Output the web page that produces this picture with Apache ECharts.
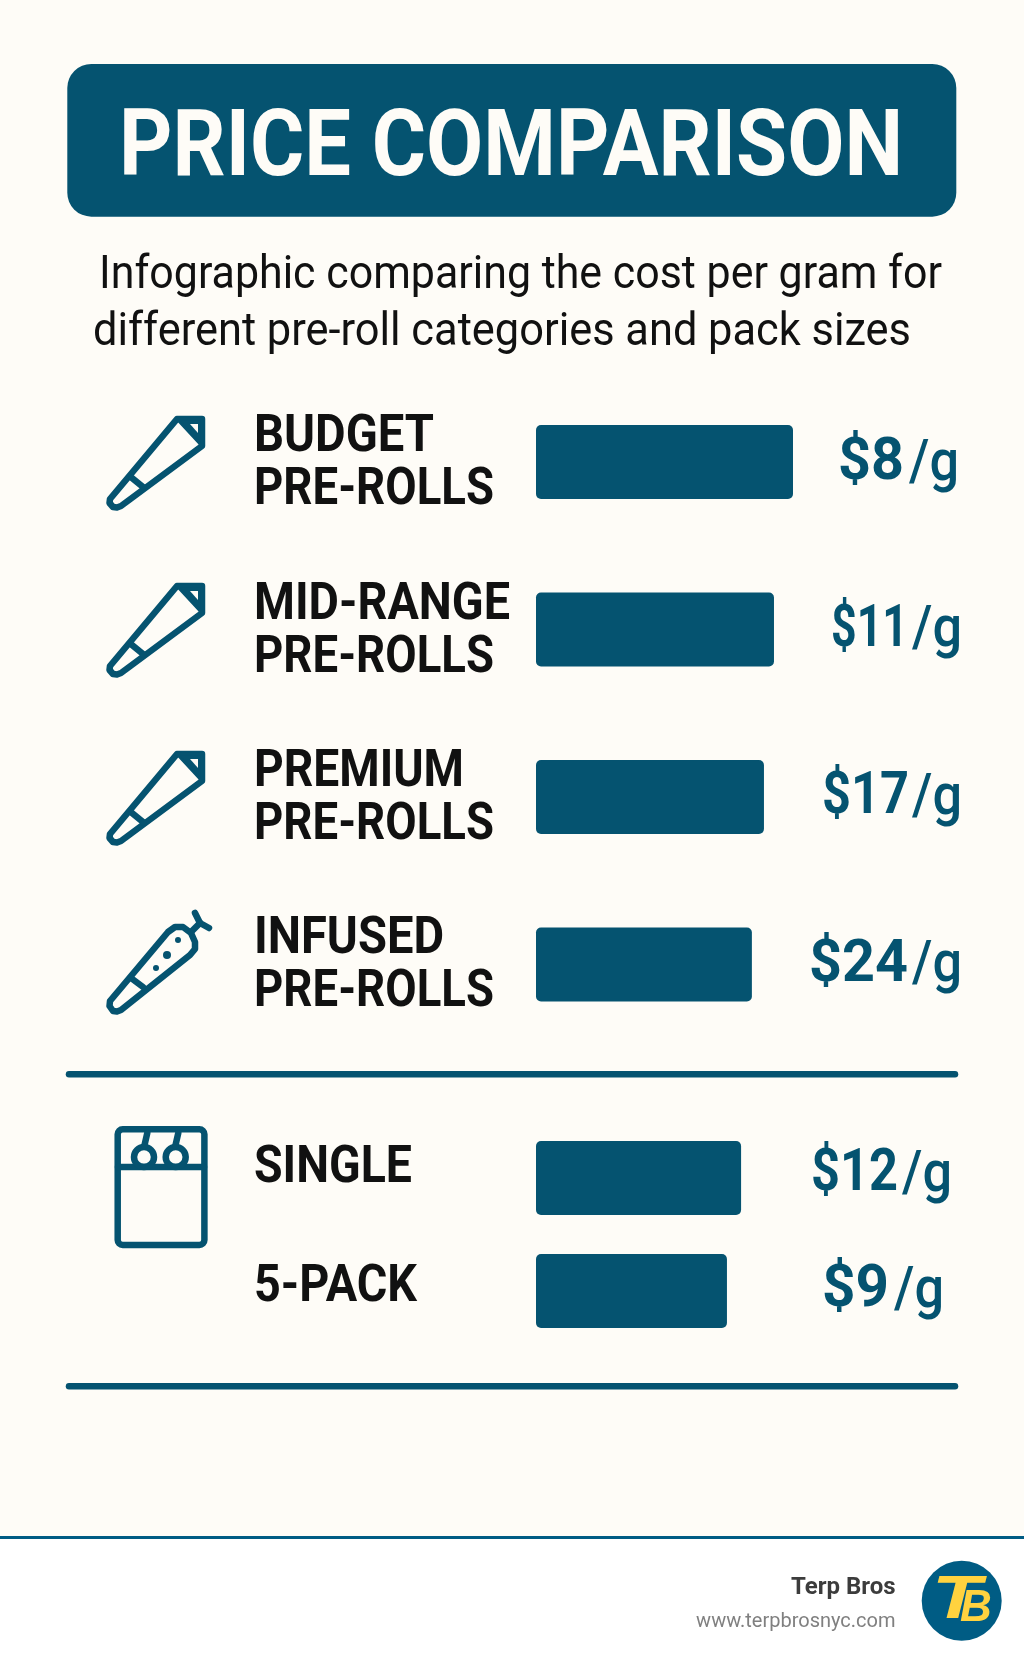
<!DOCTYPE html>
<html>
<head>
<meta charset="utf-8">
<title>Price Comparison</title>
<script src="https://cdn.jsdelivr.net/npm/echarts@6/dist/echarts.min.js"></script>
<style>
html, body { margin: 0; padding: 0; background: #fefcf7; }
#chart { width: 1024px; height: 1666px; }
</style>
</head>
<body>
<div id="chart"></div>
<script>
// pre-roll categories
const categoryNames = ['BUDGET\nPRE-ROLLS', 'MID-RANGE\nPRE-ROLLS', 'PREMIUM\nPRE-ROLLS', 'INFUSED\nPRE-ROLLS'];
const categoryPrices = [8, 11, 17, 24];
// bar length as % of the longest bar (not proportional to price there)
const categoryBars = [100, 92.6, 88.7, 84];

// pack sizes
const packNames = ['SINGLE', '5-PACK'];
const packPrices = [12, 9];
const packBars = [79.8, 74.3];

const titleText = 'PRICE COMPARISON';
const subtitleLines = ['Infographic comparing the cost per gram for', 'different pre-roll categories and pack sizes'];

const BLUE = '#055370';
const INK = '#111111';
const BG = '#fefcf7';
const ROBOTO = 'Roboto, sans-serif';

const measureCtx = document.createElement('canvas').getContext('2d');
// no condensed font is installed, so text gets squeezed to the width it has in the picture
function fit(text, font, width) {
    measureCtx.font = font;
    return width / measureCtx.measureText(text).width;
}

function text(str, x, y, font, fill, sx, align) {
    return {
        type: 'text', x: x, y: y, scaleX: sx,
        style: { text: str, font: font, fill: fill, align: align || 'left', verticalAlign: 'middle' }
    };
}

function barSeries(index, data) {
    return {
        type: 'bar', xAxisIndex: index, yAxisIndex: index, data: data, barWidth: 74, silent: true,
        itemStyle: { color: BLUE, borderRadius: 5 }
    };
}

function rowAxis(index, names) {
    return {
        type: 'category', gridIndex: index, inverse: true, data: names,
        axisLine: { show: false }, axisTick: { show: false }, axisLabel: { show: false }
    };
}

// icons
const lineStyle = { stroke: BLUE, fill: 'none', lineWidth: 6.5, lineJoin: 'round', lineCap: 'round' };

function coneIcon(dy) {
    return {
        type: 'group', y: dy, children: [
            { type: 'polygon', shape: { points: [[177, 419], [202, 419], [202, 446], [121, 506], [117, 507.5], [113, 507], [109.5, 503], [110, 499]] }, style: lineStyle },
            { type: 'polygon', shape: { points: [[177, 419], [202, 419], [202, 446]] }, style: { fill: BLUE, stroke: BLUE, lineWidth: 3, lineJoin: 'round' } },
            { type: 'polygon', shape: { points: [[190, 424], [198, 424], [198, 433]] }, style: { fill: BG } },
            { type: 'line', shape: { x1: 132, y1: 478, x2: 143, y2: 487 }, style: lineStyle }
        ]
    };
}

const infusedIcon = {
    type: 'group', children: [
        { type: 'polygon', shape: { points: [[110, 1001], [168, 932], [175, 927], [183, 927], [191, 933], [195, 942], [195, 949], [190, 955], [121, 1010], [117, 1011.5], [113, 1011], [109.5, 1006]] }, style: lineStyle },
        { type: 'line', shape: { x1: 131, y1: 978, x2: 143, y2: 987 }, style: lineStyle },
        { type: 'line', shape: { x1: 191, y1: 932, x2: 200, y2: 923 }, style: lineStyle },
        { type: 'line', shape: { x1: 200, y1: 923, x2: 195, y2: 913 }, style: lineStyle },
        { type: 'line', shape: { x1: 200, y1: 923, x2: 209, y2: 928 }, style: lineStyle },
        { type: 'circle', shape: { cx: 178, cy: 940, r: 3 }, style: { fill: BLUE } },
        { type: 'circle', shape: { cx: 167, cy: 955, r: 4 }, style: { fill: BLUE } },
        { type: 'circle', shape: { cx: 156, cy: 968, r: 3 }, style: { fill: BLUE } }
    ]
};

const boxIcon = {
    type: 'group', children: [
        { type: 'rect', shape: { x: 117.7, y: 1129.3, width: 86.7, height: 115.7, r: 5 }, style: lineStyle },
        { type: 'line', shape: { x1: 118, y1: 1167, x2: 204, y2: 1167 }, style: lineStyle },
        { type: 'circle', shape: { cx: 144, cy: 1157, r: 10 }, style: lineStyle },
        { type: 'circle', shape: { cx: 175.7, cy: 1157, r: 10 }, style: lineStyle },
        { type: 'line', shape: { x1: 147.3, y1: 1133, x2: 144.3, y2: 1146 }, style: lineStyle },
        { type: 'line', shape: { x1: 178.3, y1: 1133, x2: 175.3, y2: 1146 }, style: lineStyle }
    ]
};

const chart = echarts.init(document.getElementById('chart'), null, { renderer: 'canvas' });
chart.setOption({
    backgroundColor: BG,
    animation: false,
    grid: [
        { left: 536, top: 378.25, width: 257, height: 670 },
        { left: 536, top: 1121.5, width: 257, height: 226 }
    ],
    xAxis: [
        { type: 'value', gridIndex: 0, min: 0, max: 100, show: false },
        { type: 'value', gridIndex: 1, min: 0, max: 100, show: false }
    ],
    yAxis: [rowAxis(0, categoryNames), rowAxis(1, packNames)],
    series: [barSeries(0, categoryBars), barSeries(1, packBars)]
});

// row labels follow the category axes
const LABEL_FONT = 'bold 51px ' + ROBOTO;
const PRICE_FONT = 'bold 60px ' + ROBOTO;
const UNIT_FONT = '500 58px ' + ROBOTO;
const unitScale = fit('/g', UNIT_FONT, 50);

const rowLabels = [];
function addRows(rows) {
    rows.names.forEach(function (name, i) {
        const y = chart.convertToPixel({ yAxisIndex: rows.axis }, i) + rows.nameShift[i];
        const lines = name.split('\n');
        const widths = rows.nameWidths[i];
        lines.forEach(function (line, k) {
            const lineY = y + (k - (lines.length - 1) / 2) * 53;
            rowLabels.push(text(line, 254, lineY, LABEL_FONT, INK, fit(line, LABEL_FONT, widths[k])));
        });
        const py = chart.convertToPixel({ yAxisIndex: rows.axis }, i) + rows.priceShift[i];
        const price = '$' + rows.prices[i];
        rowLabels.push(text(price, rows.digitRight[i], py, PRICE_FONT, BLUE, fit(price, PRICE_FONT, rows.priceWidths[i]), 'right'));
        rowLabels.push(text('/g', rows.unitRight[i], py + 1, UNIT_FONT, BLUE, unitScale, 'right'));
    });
}
addRows({
    axis: 0, names: categoryNames, prices: categoryPrices,
    nameWidths: [[180, 240], [256, 240], [210, 240], [190, 240]], nameShift: [3, 3, 3, 2],
    priceWidths: [66, 77, 87, 99], digitRight: [904, 908, 909, 908], priceShift: [2, 1, 1, 1],
    unitRight: [959, 962, 962, 962]
});
addRows({
    axis: 1, names: packNames, prices: packPrices,
    nameWidths: [[158], [163]], nameShift: [-9, -3],
    priceWidths: [87, 67], digitRight: [898, 889], priceShift: [-3, 0],
    unitRight: [952, 944]
});

const TITLE_FONT = 'bold 92px ' + ROBOTO;
const SUB_FONT = '46px ' + ROBOTO;

chart.setOption({
    graphic: [
        { type: 'rect', shape: { x: 67.3, y: 64, width: 889, height: 152.7, r: 24 }, style: { fill: BLUE } },
        text(titleText, 119, 152, TITLE_FONT, BG, fit(titleText, TITLE_FONT, 784)),
        text(subtitleLines[0], 99, 276, SUB_FONT, INK, fit(subtitleLines[0], SUB_FONT, 843)),
        text(subtitleLines[1], 93, 333, SUB_FONT, INK, fit(subtitleLines[1], SUB_FONT, 818)),
        coneIcon(0), coneIcon(167), coneIcon(335), infusedIcon, boxIcon,
        { type: 'line', shape: { x1: 69, y1: 1074.3, x2: 955, y2: 1074.3 }, style: { stroke: BLUE, lineWidth: 6.5, lineCap: 'round' } },
        { type: 'line', shape: { x1: 69, y1: 1386.3, x2: 955, y2: 1386.3 }, style: { stroke: BLUE, lineWidth: 6.5, lineCap: 'round' } },
        // footer
        { type: 'rect', shape: { x: 0, y: 1537, width: 1024, height: 129 }, style: { fill: '#ffffff' } },
        { type: 'rect', shape: { x: 0, y: 1536, width: 1024, height: 3 }, style: { fill: '#005c84' } },
        text('Terp Bros', 895.5, 1587.5, 'bold 24px Roboto', '#3c3c3c', 1, 'right'),
        text('www.terpbrosnyc.com', 895.5, 1622, '20px Roboto', '#808080', 1, 'right'),
        { type: 'circle', shape: { cx: 961.7, cy: 1600.7, r: 40 }, style: { fill: '#005c84' } },
        text('T', 932, 1601, 'italic bold 62px "Liberation Sans"', '#ffd23f', 1.3),
        text('B', 960, 1609, 'italic bold 44px "Liberation Sans"', '#ffd23f', 1)
    ].concat(rowLabels)
});
</script>
</body>
</html>
